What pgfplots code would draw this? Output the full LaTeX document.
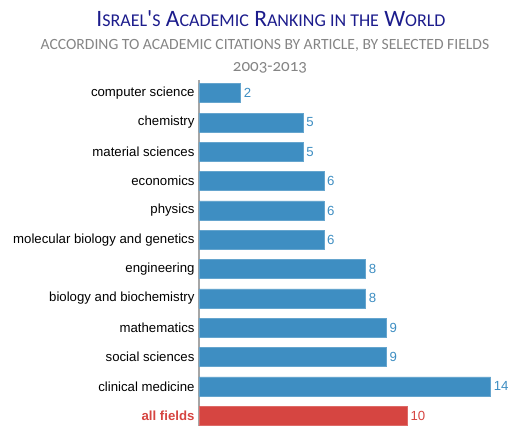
\documentclass[border=0pt]{standalone}
\usepackage{pgfplots}
\pgfplotsset{compat=1.18}
\usepackage{fontspec}
\setmainfont{Liberation Sans}
\newfontfamily\calibri{Carlito}
\newfontfamily\calibriold[Numbers=OldStyle]{Carlito}
\definecolor{barblue}{HTML}{3E8EC2}
\definecolor{barred}{HTML}{D64541}
\definecolor{titleblue}{HTML}{1C1C8C}
\definecolor{subgray}{HTML}{858585}
\begin{document}
\begin{tikzpicture}[x=1pt,y=1pt]
\begin{axis}[
  at={(199pt,0pt)}, anchor=south west,
  scale only axis,
  width=310pt, height=346pt,
  xbar, bar width=19pt, bar shift=0pt,
  xmin=0, xmax=14.88,
  ymin=-0.45, ymax=11.35,
  y dir=reverse,
  axis x line=none,
  axis y line*=left,
  y axis line style={draw=gray!70, line width=1.5pt, -},
  ytick={0,...,11},
  yticklabels={computer science, chemistry, material sciences, economics, physics, molecular biology and genetics, engineering, biology and biochemistry, mathematics, social sciences, clinical medicine, \textcolor{barred}{\bfseries all fields}},
  yticklabel style={font=\fontsize{13.2}{15}\selectfont, xshift=-1pt},
  major tick length=0pt,
  /pgf/number format/assume math mode=true,
  nodes near coords,
  nodes near coords style={font=\fontsize{13.2}{15}\selectfont, anchor=west, inner sep=1pt, xshift=2pt},
  clip=false,
]
\addplot[fill=barblue, draw=barblue!80!white, nodes near coords style={text=barblue}] coordinates {
  (2,0) (5,1) (5,2) (6,3) (6,4) (6,5) (8,6) (8,7) (9,8) (9,9) (14,10)
};
\addplot[fill=barred, draw=barred!80!white, nodes near coords style={text=barred}] coordinates {
  (10,11)
};
\end{axis}
\node[text=titleblue, font=\calibri\fontsize{23.5}{26}\selectfont] at (271pt,407pt)
  {I{\fontsize{18}{20}\selectfont SRAEL}'{\fontsize{18}{20}\selectfont S} A{\fontsize{18}{20}\selectfont CADEMIC} R{\fontsize{18}{20}\selectfont ANKING IN THE} W{\fontsize{18}{20}\selectfont ORLD}};
\node[text=subgray, font=\calibri\fontsize{15.6}{18}\selectfont] at (265pt,381pt)
  {ACCORDING TO ACADEMIC CITATIONS BY ARTICLE, BY SELECTED FIELDS};
\node[text=subgray, font=\calibriold\fontsize{17}{19}\selectfont] at (270pt,358pt) {2003-2013};
\pgfresetboundingbox
\path (0pt,0pt) rectangle (509pt,426pt);
\end{tikzpicture}
\end{document}
